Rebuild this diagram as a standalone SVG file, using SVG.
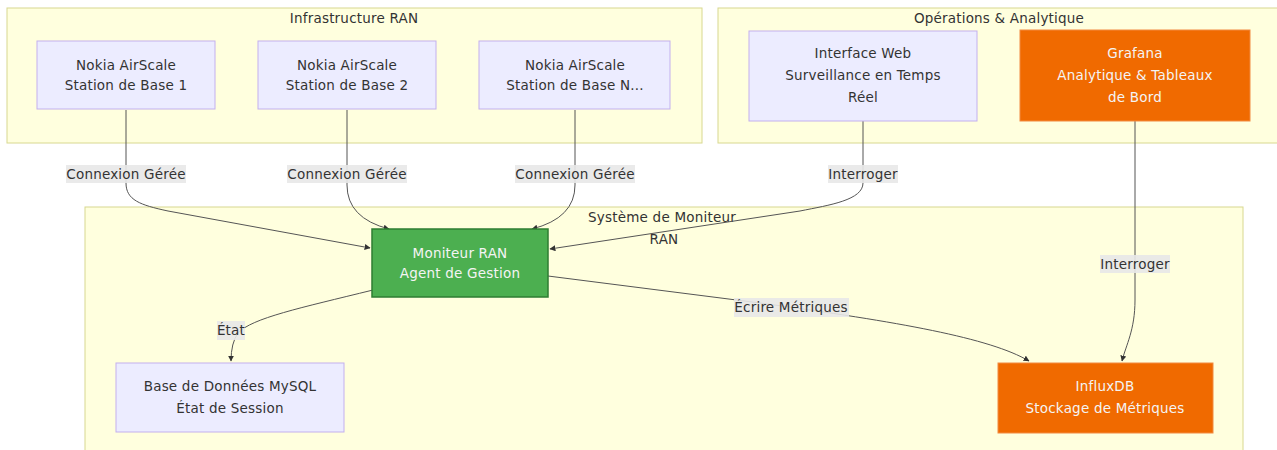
<svg xmlns="http://www.w3.org/2000/svg" width="1277" height="450" viewBox="0 0 1277 450">
<defs>
<style>
text{font-family:"DejaVu Sans",Verdana,sans-serif;font-size:13.5px;letter-spacing:0.2px;fill:#333;text-anchor:middle}
.cl{fill:#ffffde;stroke:#d8d890;stroke-width:1}
.n{fill:#ececff;stroke:#c3b0ee;stroke-width:1}
.or{fill:#f06a00;stroke:#f28a40;stroke-width:1}
.gr{fill:#4caf50;stroke:#2e7d32;stroke-width:1.5}
.lt{fill:#f4f4f4}
.e{fill:none;stroke:#555;stroke-width:1}
.lb{fill:#e8e8e8;opacity:0.9}
</style>
<marker id="ah" viewBox="0 0 10 10" refX="9" refY="5" markerWidth="6" markerHeight="6" orient="auto"><path d="M0,0 L10,5 L0,10 z" fill="#333"/></marker>
</defs>
<g id="clusters">
<g id="c-infra"><rect class="cl" x="7" y="8" width="695" height="135"/><text x="354" y="23">Infrastructure RAN</text></g>
<g id="c-ops"><rect class="cl" x="718" y="8" width="560" height="135"/><text x="999" y="23">Opérations &amp; Analytique</text></g>
<g id="c-mon"><rect class="cl" x="85" y="207" width="1158" height="250"/><text x="662" y="222">Système de Moniteur</text><text x="664" y="244">RAN</text></g>
</g>
<g id="edges">
<path class="e" d="M126,110 V183 C126,200 140,205 168,211 L370,248" marker-end="url(#ah)"/>
<path class="e" d="M347,110 V185 Q347,218 389,229" marker-end="url(#ah)"/>
<path class="e" d="M575,110 V185 Q575,218 532,229" marker-end="url(#ah)"/>
<path class="e" d="M863,121 V183 C863,200 830,205 800,211 L550,249" marker-end="url(#ah)"/>
<path class="e" d="M1135,121 V300 C1135,330 1126,345 1122,361" marker-end="url(#ah)"/>
<path class="e" d="M373,290 C300,308 252,318 238,333 Q231,343 231,361" marker-end="url(#ah)"/>
<path class="e" d="M548,276 L760,303 C900,322 990,338 1029,361" marker-end="url(#ah)"/>
<g id="edge-labels">
<rect class="lb" x="66" y="165" width="120" height="18"/><text x="126" y="179">Connexion Gérée</text>
<rect class="lb" x="287" y="165" width="120" height="18"/><text x="347" y="179">Connexion Gérée</text>
<rect class="lb" x="515" y="165" width="120" height="18"/><text x="575" y="179">Connexion Gérée</text>
<rect class="lb" x="828" y="165" width="70" height="18"/><text x="863" y="179">Interroger</text>
<rect class="lb" x="1100" y="255" width="70" height="18"/><text x="1135" y="269">Interroger</text>
<rect class="lb" x="217" y="321" width="28" height="19"/><text x="231" y="335">État</text>
<rect class="lb" x="734" y="298" width="115" height="19"/><text x="791" y="312">Écrire Métriques</text>
</g>
</g>
<g id="n-bs1"><rect class="n" x="37" y="41" width="178" height="68"/><text x="126" y="70">Nokia AirScale</text><text x="126" y="90">Station de Base 1</text></g>
<g id="n-bs2"><rect class="n" x="258" y="41" width="178" height="68"/><text x="347" y="70">Nokia AirScale</text><text x="347" y="90">Station de Base 2</text></g>
<g id="n-bsn"><rect class="n" x="479" y="41" width="191" height="68"/><text x="575" y="70">Nokia AirScale</text><text x="575" y="90">Station de Base N...</text></g>
<g id="n-web"><rect class="n" x="749" y="31" width="228" height="90"/><text x="863" y="58">Interface Web</text><text x="863" y="80">Surveillance en Temps</text><text x="863" y="102">Réel</text></g>
<g id="n-grafana"><rect class="or" x="1020" y="30" width="230" height="91"/><text class="lt" x="1135" y="58">Grafana</text><text class="lt" x="1135" y="80">Analytique &amp; Tableaux</text><text class="lt" x="1135" y="102">de Bord</text></g>
<g id="n-mon"><rect class="gr" x="372" y="229" width="176" height="68"/><text class="lt" x="460" y="258">Moniteur RAN</text><text class="lt" x="460" y="278">Agent de Gestion</text></g>
<g id="n-mysql"><rect class="n" x="116" y="363" width="228" height="69"/><text x="230" y="391">Base de Données MySQL</text><text x="230" y="413">État de Session</text></g>
<g id="n-influx"><rect class="or" x="998" y="363" width="215" height="70"/><text class="lt" x="1105" y="391">InfluxDB</text><text class="lt" x="1105" y="413">Stockage de Métriques</text></g>
</svg>
